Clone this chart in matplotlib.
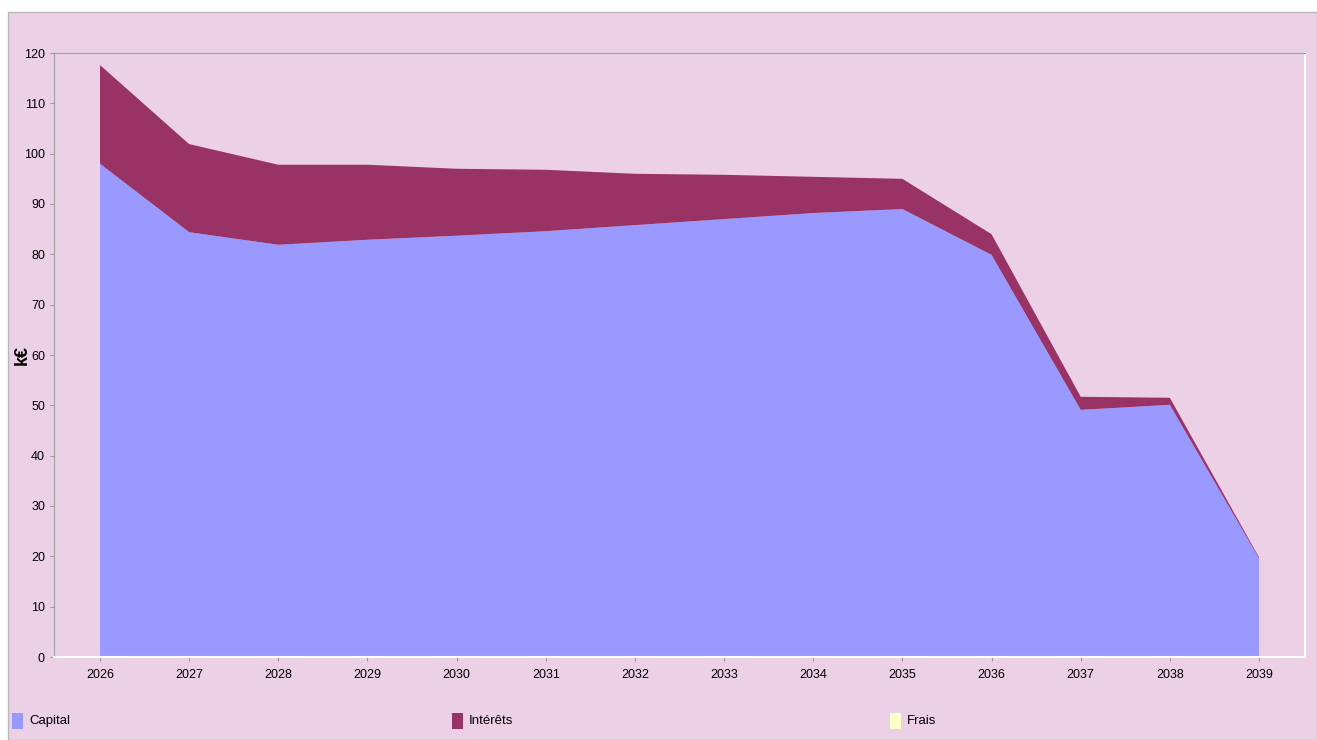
import matplotlib
matplotlib.use("Agg")
from matplotlib import pyplot as plt
from matplotlib.patches import Rectangle
import numpy as np

years = [2026, 2027, 2028, 2029, 2030, 2031, 2032, 2033, 2034, 2035, 2036, 2037, 2038, 2039]
capital = [98.0, 84.4, 81.9, 82.9, 83.7, 84.6, 85.8, 87.0, 88.2, 89.0, 79.9, 49.1, 50.1, 19.6]
interets = [19.6, 17.5, 15.9, 14.9, 13.3, 12.2, 10.2, 8.8, 7.2, 6.0, 4.1, 2.6, 1.4, 0.2]
frais = [0, 0, 0, 0, 0, 0, 0, 0, 0, 0, 0, 0, 0, 0]

labels = ["Capital", "Intérêts", "Frais"]
colors = ["#9999ff", "#993366", "#ffffcc"]
bg = "#ebd0e6"

plt.rcParams['font.family'] = ['Liberation Sans Narrow', 'Liberation Sans', 'DejaVu Sans']

W, H = 1317, 740
fig = plt.figure(figsize=(W / 100, H / 100), dpi=100)
fig.patch.set_facecolor("white")
# pink panel with thin grey border
fig.patches.append(Rectangle((8 / W, 0), 1 - 8 / W, 1 - 12 / H,
                             transform=fig.transFigure, facecolor=bg,
                             edgecolor="#b8b8b8", linewidth=1.0, zorder=-10))

ax = fig.add_axes([54 / W, 1 - 657 / H, (1305 - 54) / W, (657 - 53) / H])
ax.set_facecolor(bg)
ax.stackplot(years, capital, interets, frais, colors=colors, linewidth=0)

ax.set_xlim(2025.484, 2039.516)
ax.set_ylim(0, 120)
ax.set_xticks(years)
ax.set_xticklabels([str(y) for y in years])
ax.set_yticks(np.arange(0, 121, 10))
ax.tick_params(axis="both", labelsize=9, colors="#999999", labelcolor="black",
               length=3, width=0.8)
ax.tick_params(axis="x", pad=6)

for side in ["left", "top"]:
    ax.spines[side].set_color("#a0a0a0")
for side in ["right", "bottom"]:
    ax.spines[side].set_color("white")
    ax.spines[side].set_linewidth(1.5)

fig.text(22 / W, 1 - 355 / H, "k€", rotation=90, fontsize=13,
         fontweight="bold", ha="center", va="center",
         family=['Liberation Sans', 'DejaVu Sans'])

# legend row along the bottom
legend_x = [12, 452, 890]
for x0, lab, c in zip(legend_x, labels, colors):
    fig.patches.append(Rectangle((x0 / W, 1 - 729 / H), 11 / W, 16 / H,
                                 transform=fig.transFigure, facecolor=c,
                                 edgecolor="none"))
    fig.text((x0 + 17) / W, 1 - 721 / H, lab, fontsize=9.5, ha="left", va="center")

fig.savefig("out.png", dpi=100, facecolor=fig.get_facecolor())
